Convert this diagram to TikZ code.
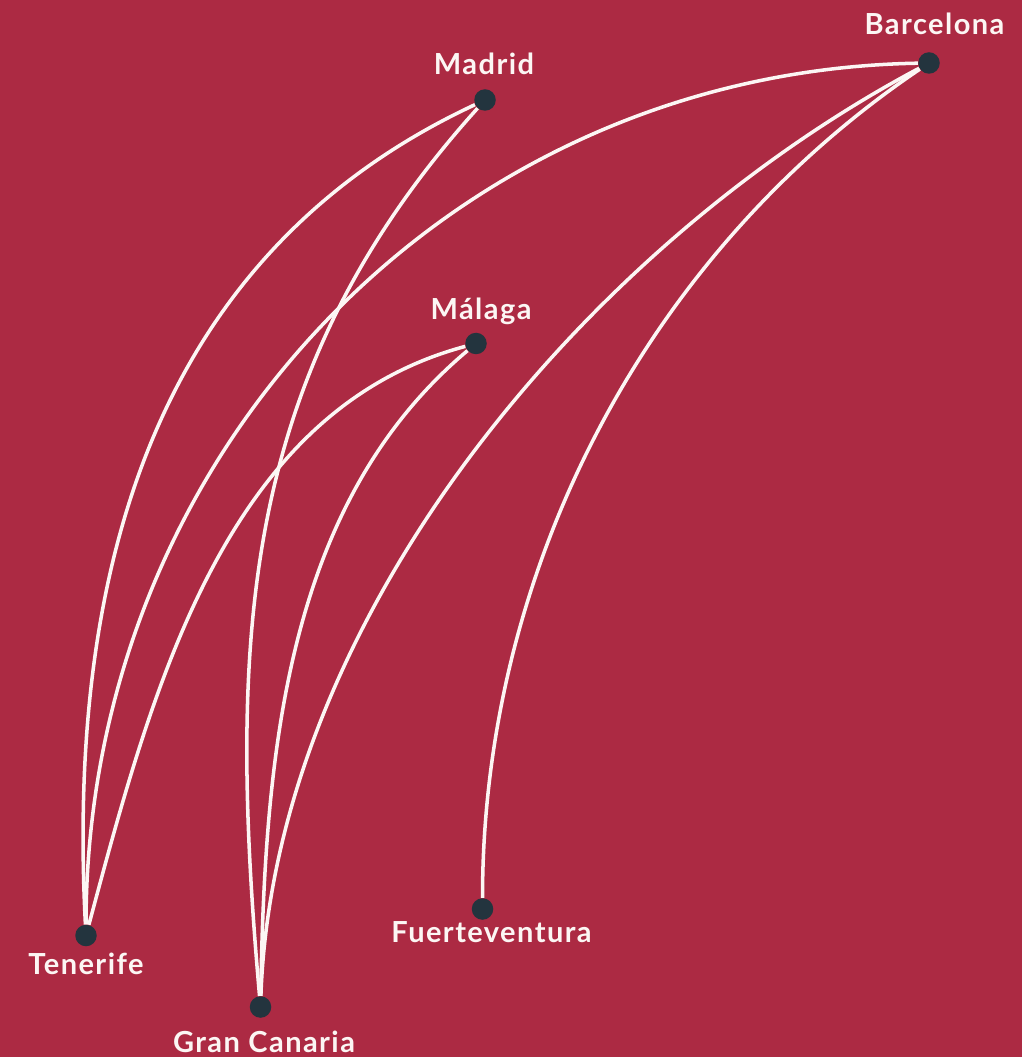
\documentclass[tikz,border=0pt]{standalone}
\usepackage{fontspec}
\setmainfont{Lato}[LetterSpace=5]
\definecolor{bgred}{RGB}{172,42,67}
\definecolor{dotblue}{RGB}{35,52,62}
\definecolor{routewhite}{RGB}{252,246,244}
\begin{document}
\begin{tikzpicture}[city_node/.style={circle,fill=dotblue,minimum size=0.43cm,inner sep=0pt},label_node/.style={anchor=base,text=routewhite,font=\fontsize{16.5}{19}\selectfont\bfseries,inner sep=0pt},route/.style={draw=routewhite,line width=2pt}]

		\fill[bgred] (0,0) rectangle (20.44,-21.14);
		\useasboundingbox (0,0) rectangle (20.44,-21.14);

		\node[city_node] (madrid) at (9.70,-2.00) {};
		\node[city_node] (barcelona) at (18.58,-1.26) {};
		\node[city_node] (malaga) at (9.52,-6.87) {};
		\node[city_node] (tenerife) at (1.72,-18.71) {};
		\node[city_node] (grancanaria) at (5.21,-20.14) {};
		\node[city_node] (fuerteventura) at (9.65,-18.18) {};

		\node[label_node] (madrid_label) at (9.68,-1.50) {Madrid};
		\node[label_node] (barcelona_label) at (18.69,-0.70) {Barcelona};
		\node[label_node] (malaga_label) at (9.62,-6.40) {Málaga};
		\node[label_node] (tenerife_label) at (1.72,-19.48) {Tenerife};
		\node[label_node] (grancanaria_label) at (5.28,-21.04) {Gran Canaria};
		\node[label_node] (fuerteventura_label) at (9.83,-18.84) {Fuerteventura};

		\draw[route] (tenerife) to[out=93,in=205] (madrid);
		\draw[route] (tenerife) to[out=90,in=181] (barcelona);
		\draw[route] (tenerife) to[out=75,in=195,looseness=0.92] (malaga);
		\draw[route] (grancanaria) to[out=95,in=228] (madrid);
		\draw[route] (grancanaria) to[out=89,in=220,looseness=0.9] (malaga);
		\draw[route] (grancanaria) to[out=88,in=208,looseness=0.85] (barcelona);
		\draw[route] (fuerteventura) to[out=90,in=214,looseness=0.9] (barcelona);
		\end{tikzpicture}
\end{document}
